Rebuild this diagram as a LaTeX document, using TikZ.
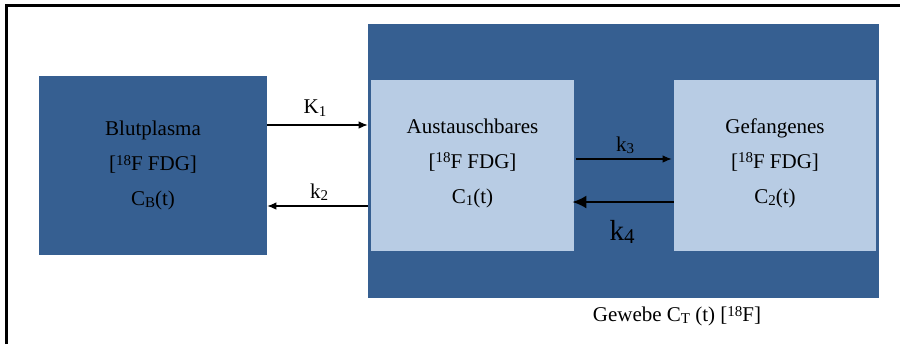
\documentclass[tikz,border=0pt]{standalone}
\usepackage{fontspec}
\setmainfont{Liberation Serif}
\usetikzlibrary{arrows.meta,calc}
\definecolor{dblue}{HTML}{365F91}
\definecolor{lblue}{HTML}{B8CCE4}
\newcommand{\lowidx}[1]{\raisebox{-0.25ex}{\fontsize{7.5}{8}\selectfont #1}}
\newcommand{\supidx}[1]{\raisebox{0.55ex}{\fontsize{7.5}{8}\selectfont #1}}
\tikzset{
  dbox/.style={draw=none, fill=dblue, inner sep=0pt},
  lbox/.style={draw=none, fill=lblue, inner sep=0pt},
  boxtext/.style={align=center, font=\fontsize{10.5}{17.5}\selectfont, text=black},
  thinarr/.style={line width=0.55pt, -{Latex[length=4.5pt,width=3.8pt]}},
  thickarr/.style={line width=1pt, -{Latex[length=7pt,width=6.5pt]}},
  lbl/.style={font=\fontsize{10.5}{12}\selectfont, inner sep=0pt},
  biglbl/.style={font=\fontsize{14.5}{16}\selectfont, inner sep=0pt}
}
\begin{document}
\begin{tikzpicture}[x=0.5pt,y=-0.5pt]
\useasboundingbox (0,0) rectangle (900,344);
\fill[white] (0,0) rectangle (900,344);
\draw[line width=1.2pt] (6.5,344) -- (6.5,5.5) -- (900,5.5);

\node[dbox, minimum width=114pt, minimum height=89.5pt] (blut) at (153,165.5) {};
\node[dbox, minimum width=255.5pt, minimum height=137pt] (gew) at (623.5,161) {};
\node[lbox, minimum width=101.5pt, minimum height=85.5pt] (aus) at (472.5,165.5) {};
\node[lbox, minimum width=101pt, minimum height=85.5pt] (gef) at (775,165.5) {};

\node[boxtext] (blutt) at (153,165.5) {Blutplasma\\{}[\supidx{18}F FDG]\\C\lowidx{B}(t)};
\node[boxtext] (aust) at (472.5,163) {Austauschbares\\{}[\supidx{18}F FDG]\\C\lowidx{1}(t)};
\node[boxtext] (geft) at (775,163) {Gefangenes\\{}[\supidx{18}F FDG]\\C\lowidx{2}(t)};

\draw[thinarr] (blut.east |- 0,125) -- (gew.west |- 0,125);
\draw[thinarr] (gew.west |- 0,206) -- (blut.east |- 0,206);
\draw[thinarr] ($(aus.east |- 0,159)+(2,0)$) -- ($(gef.west |- 0,159)+(-2,0)$);
\draw[thickarr] (gef.west |- 0,202) -- ($(aus.east |- 0,202)+(-2,0)$);

\node[lbl] (lk1) at (315,108) {K\lowidx{1}};
\node[lbl] (lk2) at (319,192) {k\lowidx{2}};
\node[lbl] (lk3) at (625,145) {k\lowidx{3}};
\node[biglbl] (lk4) at (622,232) {k{\raisebox{-0.2ex}{\fontsize{10.5}{12}\selectfont 4}}};
\node[lbl] (lgew) at (677,316) {Gewebe C\lowidx{T} (t) [\supidx{18}F]};
\end{tikzpicture}
\end{document}
